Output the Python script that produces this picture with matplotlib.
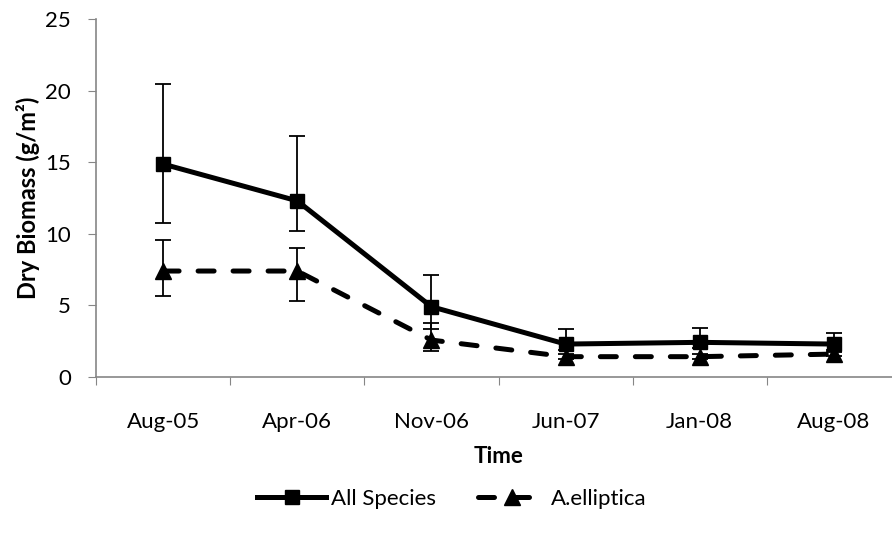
import matplotlib
matplotlib.use("Agg")
import matplotlib.pyplot as plt
import numpy as np

categories = ["Aug-05", "Apr-06", "Nov-06", "Jun-07", "Jan-08", "Aug-08"]
all_species = [14.87, 12.3, 4.91, 2.3, 2.42, 2.3]
all_upper = [20.46, 16.8, 7.12, 3.35, 3.45, 3.05]
all_lower = [10.78, 10.2, 3.32, 1.9, 2.0, 1.9]
a_elliptica = [7.4, 7.4, 2.58, 1.42, 1.42, 1.6]
ae_upper = [9.6, 9.03, 3.79, 1.6, 1.6, 1.75]
ae_lower = [5.66, 5.33, 1.84, 1.25, 1.25, 1.45]

plt.rcParams['font.family'] = ['Lato', 'DejaVu Sans']
fig = plt.figure(figsize=(8.92, 5.38), dpi=100)
ax = fig.add_axes([96/892, 1-377/538, 805/892, 358/538])

x = np.arange(len(categories))
axis_col = "#868686"
fs = 16

ya = np.array(all_species)
yerr_a = [ya - np.array(all_lower), np.array(all_upper) - ya]
ye = np.array(a_elliptica)
yerr_e = [ye - np.array(ae_lower), np.array(ae_upper) - ye]

ax.errorbar(x, ya, yerr=yerr_a, fmt='none', ecolor='black', elinewidth=1.3, capsize=6, capthick=1.3, zorder=2)
ax.errorbar(x, ye, yerr=yerr_e, fmt='none', ecolor='black', elinewidth=1.3, capsize=6, capthick=1.3, zorder=2)

l1, = ax.plot(x, ya, color='black', lw=3.6, marker='s', markersize=10, label='All Species', zorder=3)
l2, = ax.plot(x, ye, color='black', lw=3.6, marker='^', markersize=11, label='A.elliptica',
              dashes=(3.2, 3.8), dash_capstyle='round', zorder=3)

ax.set_xlim(-0.5, len(categories) - 0.5)
ax.set_ylim(0, 25)
ax.set_yticks([0, 5, 10, 15, 20, 25])
ax.set_xticks(np.arange(-0.5, len(categories), 1.0), minor=False)
ax.set_xticklabels([])
ax.set_xticks(x, minor=True)
ax.set_xticklabels(categories, minor=True)
ax.tick_params(axis='x', which='minor', length=0, pad=25, labelsize=fs)
ax.tick_params(axis='x', which='major', length=6, color=axis_col, direction='out')
ax.tick_params(axis='y', length=6, color=axis_col, direction='out', labelsize=fs, pad=12)

for s in ['top', 'right']:
    ax.spines[s].set_visible(False)
for s in ['left', 'bottom']:
    ax.spines[s].set_color(axis_col)
    ax.spines[s].set_linewidth(1.2)

ax.set_ylabel("Dry Biomass (g/m²)", fontsize=17, fontweight='bold', labelpad=4)
ax.set_xlabel("Time", fontsize=fs, fontweight='bold', labelpad=10)

fig.legend(handles=[l1, l2], loc='center', bbox_to_anchor=(452/892, 1-499/538), ncol=2,
           frameon=False, fontsize=fs, handlelength=3.1, columnspacing=1.9, handletextpad=0.2)

fig.savefig("out.png", dpi=100)
